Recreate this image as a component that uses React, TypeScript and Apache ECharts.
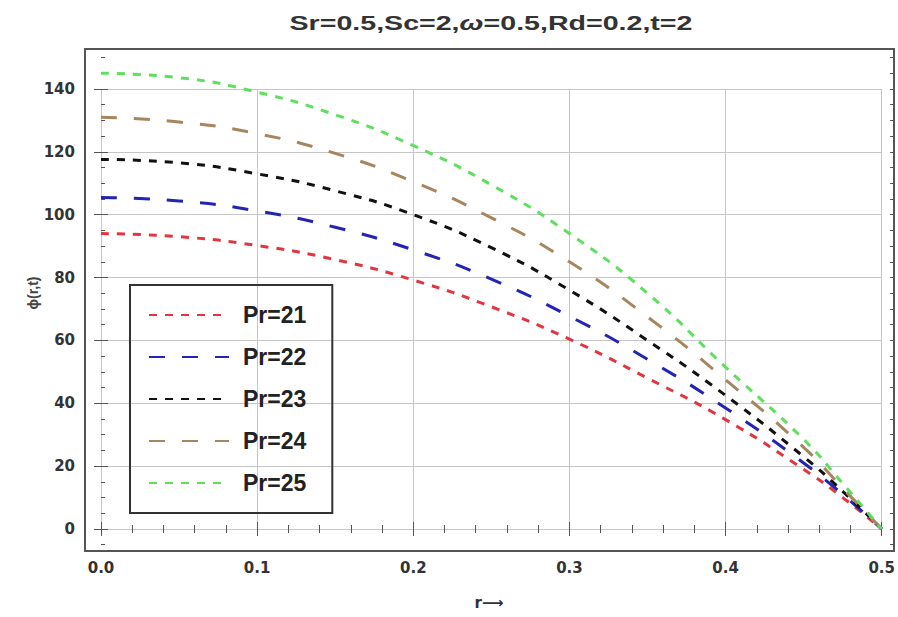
import React, { useEffect, useRef } from 'react';
import * as echarts from 'echarts';

// radius sample points
const rValues = [0, 0.05, 0.1, 0.15, 0.2, 0.25, 0.3, 0.35, 0.4, 0.45, 0.475, 0.5];
// phi(r,t) readings for each Prandtl number
const pr21 = [94, 93, 90.2, 85.7, 79.2, 70.7, 60.4, 48, 34.8, 19, 10, 0];
const pr22 = [105.5, 104.4, 101.2, 96, 88.8, 79.5, 67.7, 54, 38.5, 21, 11, 0];
const pr23 = [117.6, 116.5, 113, 107.6, 100, 89.5, 76, 60, 42.5, 23, 12, 0];
const pr24 = [131, 129.5, 125.8, 119.5, 110.5, 99, 85, 67.5, 47.5, 26, 13, 0];
const pr25 = [145, 143.6, 139, 131.8, 122, 109.5, 94, 75, 51.5, 28.5, 14.5, 0];

const seriesNames = ['Pr=21', 'Pr=22', 'Pr=23', 'Pr=24', 'Pr=25'];
const seriesValues = [pr21, pr22, pr23, pr24, pr25];
const seriesColors = ['#e2353f', '#2323b4', '#111111', '#a5865f', '#5ee05e'];
const seriesDash: number[][] = [[8, 8], [16, 17], [8, 8], [16, 17], [8, 8]];

const xMin = 0, xMax = 0.5, xStep = 0.1;
const yMin = 0, yMax = 140, yStep = 20;
const yMinorMin = -5, yMinorMax = 150, yMinorStep = 5;

const titleText = 'Sr=0.5,Sc=2,{w|ω}=0.5,Rd=0.2,t=2';
const yName = 'ϕ(r,t)';
const xName = 'r⟶';

export default function App() {
  const ref = useRef<HTMLDivElement>(null);
  useEffect(() => {
    if (!ref.current) return;
    const chart = echarts.init(ref.current, null, { renderer: 'svg' });
    const tickColor = '#555';
    const labelStyle = { color: '#333', fontFamily: 'DejaVu Sans', fontWeight: 'bold' as const, fontSize: 15 };
    const gridLine = { show: true, lineStyle: { color: '#c6c6c6', width: 1 } };

    const option: any = {
      animation: false,
      backgroundColor: '#fff',
      grid: [
        { left: 85, top: 49, width: 809, height: 502, show: true, borderColor: '#555', borderWidth: 2, backgroundColor: 'transparent' },
        { left: 101, top: 89, width: 781, height: 440, show: false },
        { left: 101, top: 529 - 150 * (440 / 140), width: 781, height: 155 * (440 / 140), show: false },
      ],
      xAxis: [
        { gridIndex: 0, type: 'value', show: false, min: 0, max: 1 },
        {
          gridIndex: 1, type: 'value', min: xMin, max: xMax, interval: xStep, position: 'bottom', offset: 22,
          axisLine: { show: false },
          axisTick: { show: true, inside: true, length: 7, lineStyle: { color: tickColor, width: 1 } },
          minorTick: { show: true, splitNumber: 5, length: 4, lineStyle: { color: tickColor, width: 1 } },
          splitLine: gridLine,
          axisLabel: { ...labelStyle, margin: 9, formatter: (v: number) => v.toFixed(1) },
        },
        {
          gridIndex: 1, type: 'value', min: xMin, max: xMax, interval: xStep, position: 'top', offset: 40,
          axisLine: { show: false },
          axisTick: { show: true, inside: true, length: 7, lineStyle: { color: tickColor, width: 1 } },
          minorTick: { show: true, splitNumber: 5, length: 4, lineStyle: { color: tickColor, width: 1 } },
          splitLine: { show: false },
          axisLabel: { show: false },
        },
        { gridIndex: 2, type: 'value', show: false, min: 0, max: 1 },
      ],
      yAxis: [
        { gridIndex: 0, type: 'value', show: false, min: 0, max: 1 },
        {
          gridIndex: 1, type: 'value', min: yMin, max: yMax, interval: yStep, position: 'left', offset: 16,
          axisLine: { show: false },
          axisTick: { show: true, inside: true, length: 7, lineStyle: { color: tickColor, width: 1 } },
          splitLine: gridLine,
          axisLabel: { ...labelStyle, margin: 10 },
        },
        {
          gridIndex: 1, type: 'value', min: yMin, max: yMax, interval: yStep, position: 'right', offset: 12,
          axisLine: { show: false },
          axisTick: { show: true, inside: true, length: 7, lineStyle: { color: tickColor, width: 1 } },
          splitLine: { show: false },
          axisLabel: { show: false },
        },
        {
          gridIndex: 2, type: 'value', min: yMinorMin, max: yMinorMax, interval: yMinorStep, position: 'left', offset: 16,
          axisLine: { show: false },
          axisTick: { show: true, inside: true, length: 4, lineStyle: { color: tickColor, width: 1 } },
          splitLine: { show: false },
          axisLabel: { show: false },
        },
        {
          gridIndex: 2, type: 'value', min: yMinorMin, max: yMinorMax, interval: yMinorStep, position: 'right', offset: 12,
          axisLine: { show: false },
          axisTick: { show: true, inside: true, length: 4, lineStyle: { color: tickColor, width: 1 } },
          splitLine: { show: false },
          axisLabel: { show: false },
        },
      ],
      legend: {
        orient: 'vertical',
        left: 130,
        top: 285,
        padding: [18, 26, 18, 18],
        itemGap: 18,
        itemWidth: 80,
        itemHeight: 20,
        borderColor: '#333',
        borderWidth: 2,
        borderRadius: 0,
        backgroundColor: 'transparent',
        itemStyle: { opacity: 0 },
        textStyle: { color: '#222', fontFamily: 'Liberation Sans', fontWeight: 'bold', fontSize: 23, lineHeight: 24, padding: [0, 0, 0, 9] },
        data: seriesNames,
      },
      series: seriesNames.map((name, i) => ({
        name,
        type: 'line',
        xAxisIndex: 1,
        yAxisIndex: 1,
        data: rValues.map((r, j) => [r, seriesValues[i][j]]),
        smooth: true,
        symbol: 'none',
        clip: false,
        color: seriesColors[i],
        lineStyle: { color: seriesColors[i], width: 3, type: seriesDash[i] },
        z: 3 + i,
      })),
      graphic: [
        {
          type: 'text', x: 491, y: 23, scaleX: 1.43,
          style: {
            text: titleText,
            font: 'bold 20px "Liberation Sans"',
            fontSize: 20, fontWeight: 'bold', fontFamily: 'Liberation Sans',
            rich: { w: { fontStyle: 'italic', fontWeight: 'bold', fontSize: 20, fontFamily: 'Liberation Sans', fill: '#333' } },
            fill: '#333',
            align: 'center', verticalAlign: 'middle',
            textAlign: 'center', textVerticalAlign: 'middle',
          },
        },
        {
          type: 'text', x: 33, y: 293, rotation: Math.PI / 2,
          style: {
            text: yName,
            font: 'bold 14px "Liberation Sans"',
            fontSize: 14, fontWeight: 'bold', fontFamily: 'Liberation Sans',
            fill: '#444',
            align: 'center', verticalAlign: 'middle',
            textAlign: 'center', textVerticalAlign: 'middle',
          },
        },
        {
          type: 'text', x: 489, y: 603,
          style: {
            text: xName,
            font: 'bold 15px "DejaVu Sans"',
            fontSize: 15, fontWeight: 'bold', fontFamily: 'DejaVu Sans',
            fill: '#333',
            align: 'center', verticalAlign: 'middle',
            textAlign: 'center', textVerticalAlign: 'middle',
          },
        },
      ],
    };
    chart.setOption(option);
    return () => chart.dispose();
  }, []);
  return <div ref={ref} style={{ width: 898, height: 617, position: 'absolute', left: 0, top: 0 }} />;
}
